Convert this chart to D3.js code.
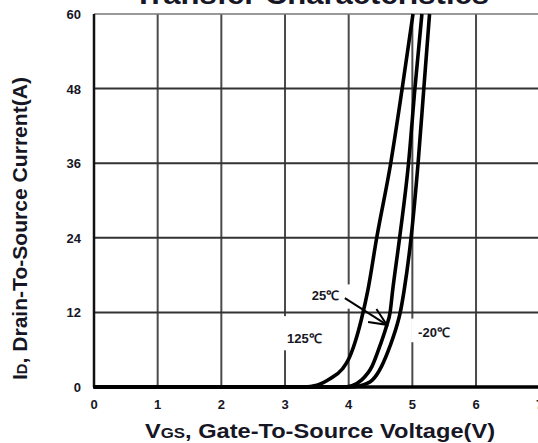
<!DOCTYPE html>
<html>
<head>
<meta charset="utf-8">
<script src="https://cdn.jsdelivr.net/npm/d3@7"></script>
<style>
  body { margin: 0; background: #fff; }
  svg { display: block; font-family: "Liberation Sans", Arial, sans-serif; }
</style>
</head>
<body>
<svg id="chart" width="538" height="443"></svg>
<script>
"use strict";

// data
const xTicks = [0, 1, 2, 3, 4, 5, 6, 7]
const yTicks = [0, 12, 24, 36, 48, 60]

const vgs125 = [0, 3.3, 3.5, 3.7, 3.9, 4.0, 4.1, 4.2, 4.3, 4.44, 4.66, 4.84, 5.01]
const id125  = [0, 0, 0.3, 1.3, 2.9, 4.5, 7.2, 10.9, 15.5, 24, 36, 48, 60]

const vgs25 = [0, 3.9, 4.05, 4.2, 4.37, 4.49, 4.6, 4.65, 4.69, 4.8, 4.94, 5.04, 5.15]
const id25  = [0, 0, 0.2, 1.1, 3.4, 6.6, 10, 12, 15.5, 24, 36, 48, 60]

const vgsM20 = [0, 4.0, 4.18, 4.37, 4.52, 4.65, 4.76, 4.81, 4.87, 4.98, 5.09, 5.18, 5.27]
const idM20  = [0, 0, 0.2, 1.1, 3.4, 6.6, 10, 12, 15.5, 24, 36, 48, 60]

const series = [
  {name: "125", v: vgs125, i: id125},
  {name: "25", v: vgs25, i: id25},
  {name: "-20", v: vgsM20, i: idM20}
]

// annotation anchors, in data units
const labels = [
  {text: "25℃",  v: 3.42, i: 14.0, box: [3.35, 4.1, 12.6, 16.5]},
  {text: "125℃", v: 3.03, i: 7.1,  box: [2.98, 3.72, 5.9, 11.4]},
  {text: "-20℃", v: 5.09, i: 8.0,  box: [4.98, 5.75, 7.2, 11.0]}
]
const arrow25 = {from: [3.94, 14.3], to: [4.6, 10.0]}

const svg = d3.select("#chart")
const x = d3.scaleLinear().domain([0, 7]).range([94, 539.7])
const y = d3.scaleLinear().domain([0, 60]).range([387, 14])

const tickColor = "#161625"

// grid
const grid = svg.append("g").attr("class", "grid")
grid.selectAll("line.v").data(xTicks.filter(d => d > 0)).enter()
  .append("line")
  .attr("class", "v")
  .attr("x1", d => x(d)).attr("x2", d => x(d))
  .attr("y1", y(60)).attr("y2", y(0))
  .attr("stroke", "#4a4a4a")
  .attr("stroke-width", 2)
grid.selectAll("line.h").data(yTicks.filter(d => d > 0)).enter()
  .append("line")
  .attr("class", "h")
  .attr("x1", x(0)).attr("x2", 538)
  .attr("y1", d => y(d)).attr("y2", d => y(d))
  .attr("stroke", d => d === 60 ? "#777" : "#333")
  .attr("stroke-width", d => d === 60 ? 1.5 : 2)

// white boxes behind the temperature labels
svg.append("g").selectAll("rect").data(labels).enter()
  .append("rect")
  .attr("x", d => x(d.box[0]))
  .attr("width", d => x(d.box[1]) - x(d.box[0]))
  .attr("y", d => y(d.box[3]))
  .attr("height", d => y(d.box[2]) - y(d.box[3]))
  .attr("fill", "#fff")

// axes lines
svg.append("line")
  .attr("x1", x(0)).attr("x2", x(0))
  .attr("y1", y(60)).attr("y2", y(0))
  .attr("stroke", "#111").attr("stroke-width", 2.5)

// curves
const line = d3.line()
  .x(d => x(d[0]))
  .y(d => y(d[1]))
  .curve(d3.curveMonotoneX)

svg.append("defs").append("clipPath").attr("id", "plot-clip")
  .append("rect")
  .attr("x", x(0)).attr("y", y(60) - 1)
  .attr("width", 538 - x(0)).attr("height", y(0) - y(60) + 4)

svg.append("g").attr("clip-path", "url(#plot-clip)")
  .selectAll("path").data(series).enter()
  .append("path")
  .attr("d", s => line(s.v.map((v, k) => [v, s.i[k]])))
  .attr("fill", "none")
  .attr("stroke", "#000")
  .attr("stroke-width", 3.6)
  .attr("stroke-linejoin", "round")

svg.append("line")
  .attr("x1", x(0) - 1).attr("x2", 538)
  .attr("y1", y(0)).attr("y2", y(0))
  .attr("stroke", "#000").attr("stroke-width", 3.5)

// tick labels
svg.append("g").selectAll("text").data(xTicks).enter()
  .append("text")
  .attr("x", d => x(d))
  .attr("y", 409)
  .attr("text-anchor", "middle")
  .attr("font-size", 13)
  .attr("font-weight", "bold")
  .attr("fill", tickColor)
  .text(d => d)

svg.append("g").selectAll("text").data(yTicks).enter()
  .append("text")
  .attr("x", 81)
  .attr("y", d => y(d) + 5)
  .attr("text-anchor", "end")
  .attr("font-size", 13)
  .attr("font-weight", "bold")
  .attr("fill", tickColor)
  .text(d => d)

// temperature labels + arrow
svg.append("g").selectAll("text").data(labels).enter()
  .append("text")
  .attr("x", d => x(d.v))
  .attr("y", d => y(d.i))
  .attr("font-size", 13)
  .attr("font-weight", "bold")
  .attr("fill", tickColor)
  .text(d => d.text)

const ax0 = x(arrow25.from[0]), ay0 = y(arrow25.from[1])
const ax1 = x(arrow25.to[0]), ay1 = y(arrow25.to[1])
const ang = Math.atan2(ay1 - ay0, ax1 - ax0)
const headLen = 19, headSpread = 0.42
const arrowG = svg.append("g")
  .attr("stroke", "#000").attr("stroke-width", 2).attr("fill", "none")
arrowG.append("line").attr("x1", ax0).attr("y1", ay0).attr("x2", ax1).attr("y2", ay1)
arrowG.append("polyline")
  .attr("points", [
    [ax1 - headLen * Math.cos(ang - headSpread), ay1 - headLen * Math.sin(ang - headSpread)],
    [ax1, ay1],
    [ax1 - headLen * Math.cos(ang + headSpread), ay1 - headLen * Math.sin(ang + headSpread)]
  ].map(p => p.join(",")).join(" "))

// title (cut off at the top, like the reference)
svg.append("text")
  .attr("x", 134)
  .attr("y", 4)
  .attr("font-size", 28)
  .attr("font-weight", "bold")
  .attr("fill", tickColor)
  .attr("textLength", 355)
  .attr("lengthAdjust", "spacingAndGlyphs")
  .text("Transfer Characteristics")

// x axis title
const xt = svg.append("text")
  .attr("x", 145)
  .attr("y", 438)
  .attr("font-size", 21)
  .attr("font-weight", "bold")
  .attr("fill", tickColor)
  .attr("textLength", 350)
  .attr("lengthAdjust", "spacingAndGlyphs")
xt.append("tspan").text("V")
xt.append("tspan").attr("font-size", 15).text("GS")
xt.append("tspan").text(", Gate-To-Source Voltage(V)")

// y axis title
const yt = svg.append("text")
  .attr("transform", "translate(27,380) rotate(-90)")
  .attr("font-size", 20)
  .attr("font-weight", "bold")
  .attr("fill", tickColor)
  .attr("textLength", 303)
  .attr("lengthAdjust", "spacingAndGlyphs")
yt.append("tspan").text("I")
yt.append("tspan").attr("font-size", 14).text("D")
yt.append("tspan").text(", Drain-To-Source Current(A)")
</script>
</body>
</html>
